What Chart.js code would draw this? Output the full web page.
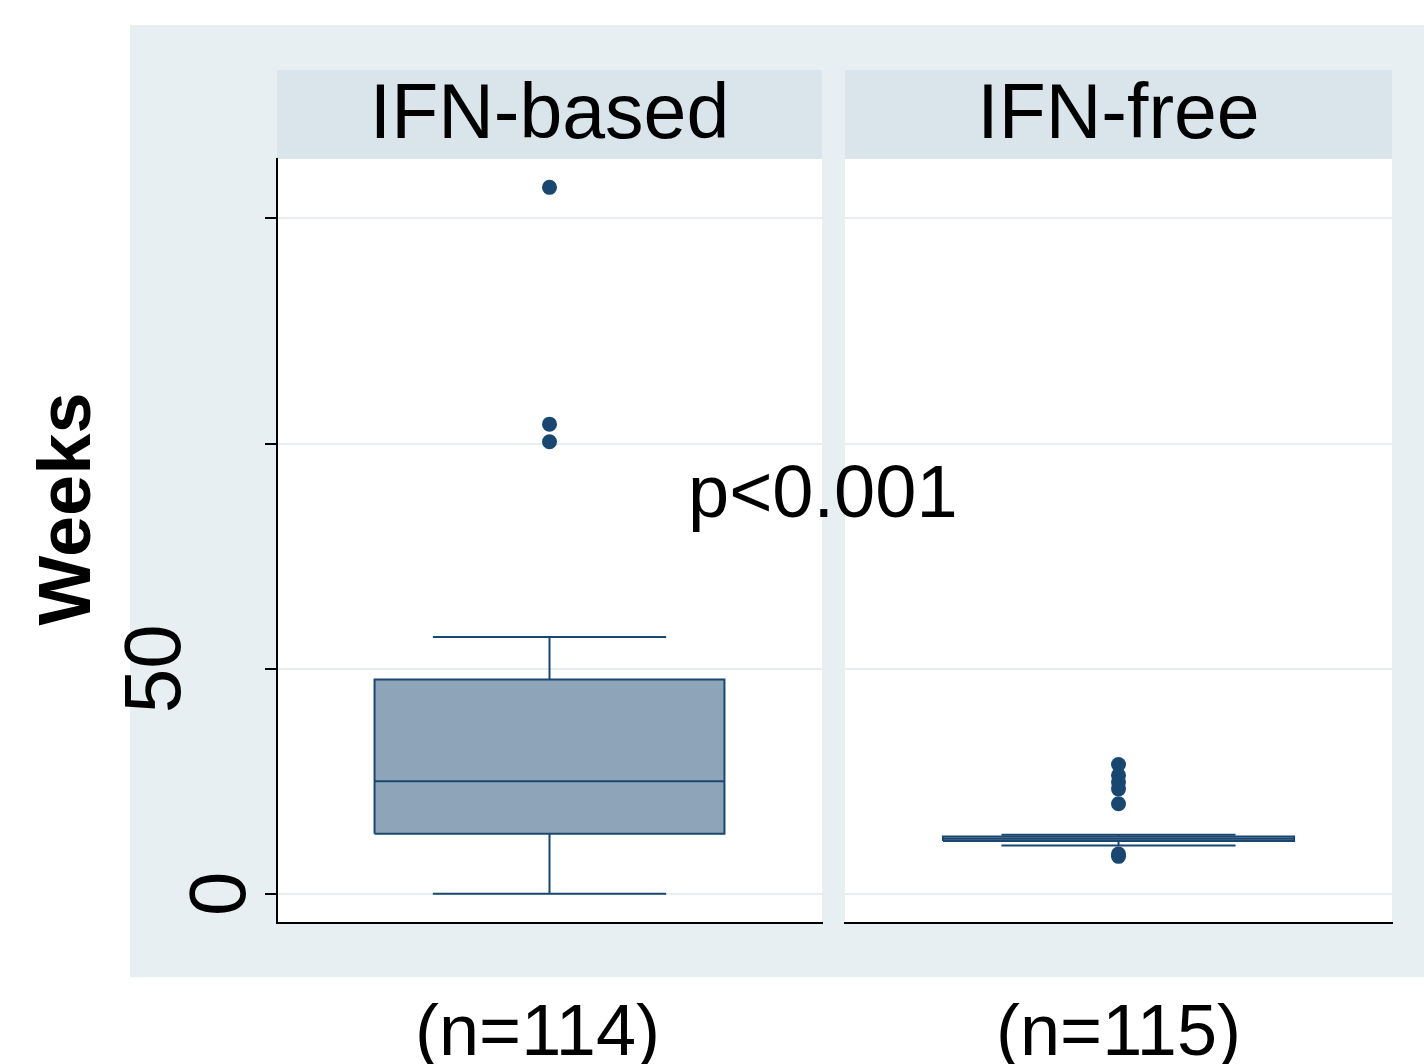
<!DOCTYPE html>
<html><head><meta charset="utf-8">
<script src="https://cdn.jsdelivr.net/npm/chart.js@4/dist/chart.umd.min.js"></script>
<style>
html,body{margin:0;padding:0;background:#fff;}
#wrap{position:relative;width:1424px;height:1064px;overflow:hidden;}
canvas{position:absolute;left:0;top:0;}
</style></head><body>
<div id="wrap"><canvas id="cLeft" width="1424" height="1064"></canvas><canvas id="cRight" width="1424" height="1064"></canvas></div>
<script>
// ---------- data ----------
const categories = ['IFN-based', 'IFN-free'];
const sampleSizes = ['(n=114)', '(n=115)'];
const lowerWhisker = [0, 10.7];
const q1 = [13.3, 11.7];
const median = [25.0, 12.2];
const q3 = [47.6, 12.7];
const upperWhisker = [57.0, 13.1];
const outliersBased = [156.9, 104.3, 100.4];
const outliersFree = [28.7, 26.3, 24.8, 23.3, 20.0, 8.8, 8.3];
const yTickValues = [0, 50, 100, 150];
const yTickLabels = ['0', '50', '', ''];
const yAxisTitle = 'Weeks';
const pValueText = 'p<0.001';
const yMin = -6.5, yMax = 163.2;

// ---------- style ----------
const NAVY = '#1a476f';
const BOX_FILL = '#8ea4b8';
const OUTER_BG = '#e8eff2';
const STRIP_BG = '#d9e5eb';
const GRID = '#e6eef1';
const FONT = '"Liberation Sans", Arial, Helvetica, sans-serif';
const CENTER = 0.5, BOX_HALF = 0.321, CAP_HALF = 0.214;
const HEADER_TOP = 70;

function groupDatasets(i, outs) {
  const L = CENTER - BOX_HALF, R = CENTER + BOX_HALF;
  return [
    { label: 'box', data: [{x:L,y:q1[i]},{x:R,y:q1[i]},{x:R,y:q3[i]},{x:L,y:q3[i]},{x:L,y:q1[i]}],
      showLine: true, fill: 'shape', backgroundColor: BOX_FILL, borderColor: NAVY, borderWidth: 2,
      pointRadius: 0, borderJoinStyle: 'miter', order: 4 },
    { label: 'whiskers', data: [
        {x:CENTER,y:q3[i]},{x:CENTER,y:upperWhisker[i]},{x:CENTER,y:null},
        {x:CENTER-CAP_HALF,y:upperWhisker[i]},{x:CENTER+CAP_HALF,y:upperWhisker[i]},{x:CENTER,y:null},
        {x:CENTER,y:q1[i]},{x:CENTER,y:lowerWhisker[i]},{x:CENTER,y:null},
        {x:CENTER-CAP_HALF,y:lowerWhisker[i]},{x:CENTER+CAP_HALF,y:lowerWhisker[i]}],
      showLine: true, spanGaps: false, fill: false, borderColor: NAVY, borderWidth: 2, pointRadius: 0, order: 3 },
    { label: 'median', data: [{x:L,y:median[i]},{x:R,y:median[i]}],
      showLine: true, fill: false, borderColor: NAVY, borderWidth: 2, pointRadius: 0, order: 2 },
    { label: 'outliers', data: outs.map(v => ({x:CENTER, y:v})),
      showLine: false, pointRadius: 7.5, pointBackgroundColor: NAVY, pointBorderWidth: 0, order: 1 }
  ];
}

function panelPlugin(i, isLeft) {
  return {
    id: 'panel' + i,
    beforeDraw(chart) {
      const {ctx, chartArea: a} = chart;
      ctx.save();
      if (isLeft) {
        ctx.fillStyle = OUTER_BG;
        ctx.fillRect(130, 25, 1294, 952);
      }
      ctx.fillStyle = STRIP_BG;
      ctx.fillRect(a.left, HEADER_TOP, a.right - a.left, a.top - HEADER_TOP);
      ctx.fillStyle = '#fff';
      ctx.fillRect(a.left, a.top, a.right - a.left, a.bottom - a.top);
      ctx.fillStyle = '#000';
      ctx.font = '77px ' + FONT;
      ctx.textAlign = 'center';
      ctx.textBaseline = 'alphabetic';
      ctx.fillText(categories[i], (a.left + a.right) / 2, 138);
      ctx.font = '72px ' + FONT;
      ctx.fillText(sampleSizes[i], (a.left + a.right) / 2 - (isLeft ? 12 : 0), 1055);
      ctx.restore();
    },
    afterDraw(chart) {
      const {ctx} = chart;
      ctx.save();
      ctx.fillStyle = '#000';
      if (isLeft) {
        const ys = chart.scales.y;
        const gaps = {'0': 32, '50': 97};
        ctx.font = '80px ' + FONT;
        yTickValues.forEach((v, k) => {
          const t = yTickLabels[k];
          if (!t) return;
          ctx.save();
          ctx.translate(chart.chartArea.left - gaps[t], ys.getPixelForValue(v));
          ctx.rotate(-Math.PI / 2);
          ctx.textAlign = 'center';
          ctx.textBaseline = 'alphabetic';
          ctx.fillText(t, 0, 0);
          ctx.restore();
        });
        ctx.save();
        ctx.font = 'bold 74px ' + FONT;
        ctx.translate(90, 509);
        ctx.rotate(-Math.PI / 2);
        ctx.textAlign = 'center';
        ctx.fillText(yAxisTitle, 0, 0);
        ctx.restore();
      } else {
        ctx.font = '74px ' + FONT;
        ctx.textAlign = 'left';
        ctx.textBaseline = 'alphabetic';
        ctx.fillText(pValueText, 688, 517);
      }
      ctx.restore();
    }
  };
}

function makeChart(id, i, outs, isLeft) {
  return new Chart(document.getElementById(id), {
    type: 'scatter',
    data: { datasets: groupDatasets(i, outs) },
    options: {
      responsive: false, animation: false,
      devicePixelRatio: 1,
      layout: { padding: isLeft ? {left: 0, right: 602, top: 159, bottom: 141}
                                : {left: 845, right: 32, top: 159, bottom: 141} },
      plugins: { legend: {display: false}, tooltip: {enabled: false}, title: {display: false} },
      scales: {
        x: {
          type: 'linear', min: 0, max: 1, position: 'bottom',
          grid: {display: false, drawTicks: false},
          ticks: {display: false},
          border: {display: true, color: '#000', width: 2},
          afterFit(s) { s.height = 0; }
        },
        y: {
          type: 'linear', min: yMin, max: yMax, position: 'left',
          afterBuildTicks(s) { s.ticks = yTickValues.map(v => ({value: v})); },
          grid: {display: true, color: GRID, lineWidth: 2, drawTicks: isLeft, tickLength: 12,
                 tickColor: '#000', tickWidth: 2},
          ticks: {display: false},
          border: {display: isLeft, color: '#000', width: 2},
          afterFit(s) { s.width = isLeft ? 277 : 0; }
        }
      }
    },
    plugins: [panelPlugin(i, isLeft)]
  });
}

makeChart('cLeft', 0, outliersBased, true);
makeChart('cRight', 1, outliersFree, false);
</script>
</body></html>
